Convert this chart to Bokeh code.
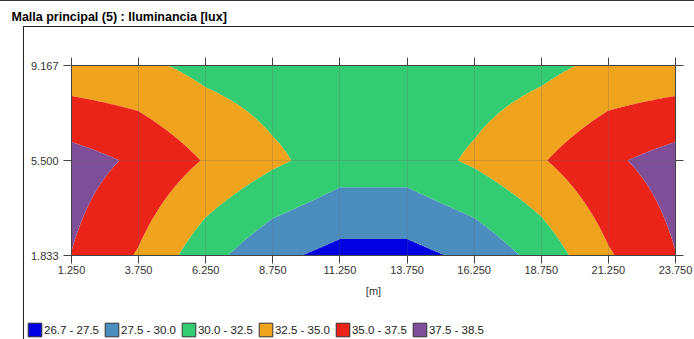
import numpy as np
from bokeh.plotting import figure
from bokeh.layouts import column
from bokeh.models import (Range1d, FixedTicker, LinearAxis, Label, Legend,
                          LegendItem, InlineStyleSheet)
from bokeh.embed import file_html
from bokeh.resources import INLINE

# ---- data (illuminance at calculation grid points, lux) ----
x_grid = [1.25, 3.75, 6.25, 8.75, 11.25, 13.75, 16.25, 18.75, 21.25, 23.75]
y_grid = [1.833, 5.5, 9.167]
lux_y1833 = [37.45, 34.78, 30.93, 28.1, 26.7, 26.7, 28.1, 30.9, 34.75, 37.45]
lux_y5500 = [38.5, 37.1, 34.83, 32.96, 31.3, 31.3, 32.88, 34.8, 37.1, 38.5]
lux_y9167 = [33.35, 33.05, 31.8, 31.15, 30.9, 30.9, 31.15, 31.85, 33.1, 33.35]

levels = [26.7, 27.5, 30.0, 32.5, 35.0, 37.5, 38.5]
band_labels = ["26.7 - 27.5", "27.5 - 30.0", "30.0 - 32.5",
               "32.5 - 35.0", "35.0 - 37.5", "37.5 - 38.5"]
band_colors = ["#0000E0", "#4A8DBE", "#33CC72", "#F0A31C", "#EA2419", "#7E4F98"]
x_tick_labels = ["1.250", "3.750", "6.250", "8.750", "11.250",
                 "13.750", "16.250", "18.750", "21.250", "23.750"]
y_tick_labels = ["1.833", "5.500", "9.167"]
title_text = "Malla principal (5) : Iluminancia [lux]"
x_axis_title = "[m]"

# ---- field for filled contours (bilinear between grid points) ----
z = np.array([lux_y1833, lux_y5500, lux_y9167])
xf = np.linspace(x_grid[0], x_grid[-1], 451)
yf = np.linspace(y_grid[0], y_grid[-1], 151)
zx = np.array([np.interp(xf, x_grid, row) for row in z])
zf = np.array([np.interp(yf, y_grid, zx[:, j]) for j in range(len(xf))]).T
lv = list(levels)
lv[0] -= 0.05
lv[-1] += 0.05

FONT = "Liberation Sans"
AX = "#444444"
W = 694

def css(rule):
    return InlineStyleSheet(css=":host { position: relative; }\n" + rule)

top_line = css(""":host::after { content: ""; position: absolute; left: 0; right: 0;
  top: 0; height: 0; border-top: 1.5px solid #333; pointer-events: none; z-index: 5; }""")
box_lines = css(""":host::after { content: ""; position: absolute; left: 23px; top: 0;
  right: 0; bottom: 0; border-left: 1.5px solid #222; border-top: 1.5px solid #222;
  pointer-events: none; z-index: 5; }""")
left_line = css(""":host::after { content: ""; position: absolute; left: 23px; top: 0;
  width: 0; bottom: 0; border-left: 1.5px solid #222; pointer-events: none; z-index: 5; }""")

def blank_fig(h, sheet):
    f = figure(width=W, height=h, min_border=0, x_axis_type=None, y_axis_type=None,
               x_range=Range1d(0, 1), y_range=Range1d(0, 1),
               output_backend="svg", toolbar_location=None,
               background_fill_color="white", border_fill_color="white",
               stylesheets=[sheet], frame_align=False)
    f.outline_line_color = None
    f.grid.visible = False
    return f

# ---- title strip ----
p_title = blank_fig(26, top_line)
p_title.add_layout(Label(x=11, y=10, x_units="screen", y_units="screen",
                         text=title_text, text_font=FONT, text_font_style="bold",
                         text_font_size="12.5px", text_color="black",
                         text_baseline="alphabetic"))

# ---- main map ----
p = figure(frame_width=604, frame_height=190,
           min_border_left=71, min_border_right=19,
           min_border_top=39, min_border_bottom=60,
           x_range=Range1d(x_grid[0], x_grid[-1]),
           y_range=Range1d(y_grid[0], y_grid[-1]),
           output_backend="svg", toolbar_location=None,
           background_fill_color="white", border_fill_color="white",
           stylesheets=[box_lines], frame_align=False)
p.outline_line_color = None

p.contour(xf, yf, zf, levels=lv, fill_color=band_colors, line_color=None)

for g, ticks in ((p.xgrid, x_grid), (p.ygrid, y_grid)):
    g.ticker = FixedTicker(ticks=ticks)
    g.grid_line_color = "#666666"
    g.grid_line_alpha = 0.25
    g.level = "overlay"

def style_axis(ax, ticks, labels, standoff):
    ax.ticker = FixedTicker(ticks=ticks)
    ax.major_label_overrides = {t: l for t, l in zip(ticks, labels)}
    ax.axis_line_color = AX
    ax.major_tick_line_color = AX
    ax.major_tick_out = 8
    ax.major_tick_in = 0
    ax.minor_tick_line_color = None
    ax.major_label_text_font = FONT
    ax.major_label_text_font_size = "11px"
    ax.major_label_text_color = "#333333"
    ax.major_label_standoff = standoff

style_axis(p.xaxis[0], x_grid, x_tick_labels, 2)
style_axis(p.yaxis[0], y_grid, y_tick_labels, 5)
p.xaxis[0].axis_label = x_axis_title
p.xaxis[0].axis_label_text_font = FONT
p.xaxis[0].axis_label_text_font_size = "11px"
p.xaxis[0].axis_label_text_font_style = "normal"
p.xaxis[0].axis_label_text_color = "#333333"
p.xaxis[0].axis_label_standoff = 8

top_ax = LinearAxis()
style_axis(top_ax, x_grid, ["" for _ in x_grid], 0)
p.add_layout(top_ax, "above")
right_ax = LinearAxis()
style_axis(right_ax, y_grid, ["" for _ in y_grid], 0)
p.add_layout(right_ax, "right")

# ---- legend strip (proxy renderers hold no visible data) ----
p_leg = blank_fig(24, left_line)
items = []
for lab, col in zip(band_labels, band_colors):
    r = p_leg.quad(left=[np.nan], right=[np.nan], top=[np.nan], bottom=[np.nan],
                   fill_color=col, line_color="#333333", line_width=1)
    items.append(LegendItem(label=lab, renderers=[r]))
legend = Legend(items=items, orientation="horizontal", location=(26, 1),
                glyph_width=17, glyph_height=17, label_height=17,
                label_standoff=1, spacing=4, padding=0, margin=0,
                label_text_font=FONT, label_text_font_size="11.5px",
                label_text_color="#222222", border_line_color=None,
                background_fill_alpha=0)
p_leg.add_layout(legend, "center")

layout = column(p_title, p, p_leg, spacing=0)
open("out.html", "w").write(file_html(layout, INLINE))
